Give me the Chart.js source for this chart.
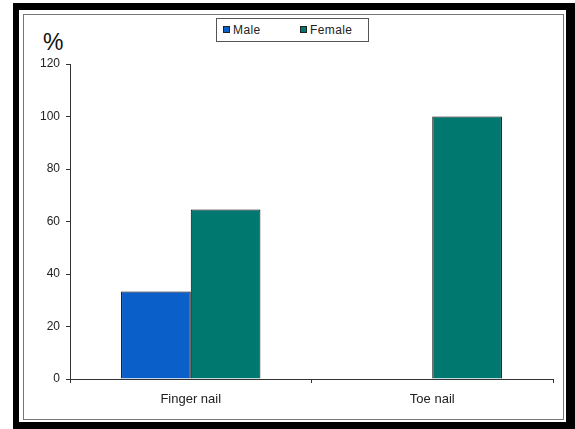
<!DOCTYPE html>
<html>
<head>
<meta charset="utf-8">
<script src="https://cdn.jsdelivr.net/npm/chart.js@4/dist/chart.umd.min.js"></script>
<style>
  html, body { margin: 0; padding: 0; background: #fff; }
  #wrap { position: relative; width: 575px; height: 429px; overflow: hidden; background: #fff; font-family: "Liberation Sans", Arial, sans-serif; }
  #frameBlack { position: absolute; left: 13px; top: 3px; width: 570px; height: 430px; background: #000; }
  #frameWhite { position: absolute; left: 19px; top: 10px; width: 547px; height: 412px; background: #fff; }
  #frameGray { position: absolute; left: 23px; top: 14px; width: 539px; height: 404px; border: 1px solid #777; background: #fff; }
  #c { position: absolute; left: 0; top: 0; }
  #pct { position: absolute; left: 43px; top: 29px; font-size: 23px; color: #111; }
  #legend { position: absolute; left: 216px; top: 18px; width: 153px; height: 24px; border: 1px solid #555; background: #fff; font-size: 12px; color: #222; box-sizing: border-box; letter-spacing: 0.4px; }
  .li { position: absolute; top: 4px; white-space: nowrap; }
  .sw { display: inline-block; width: 5px; height: 5px; border: 1px solid #222; margin-right: 3px; vertical-align: 1px; }
</style>
</head>
<body>
<div id="wrap">
  <div id="frameBlack"></div>
  <div id="frameWhite"></div>
  <div id="frameGray"></div>
  <div id="pct">%</div>
  <div id="legend"></div>
  <canvas id="c" width="575" height="429"></canvas>
</div>
<script>
const categories = ["Finger nail", "Toe nail"];
const seriesNames = ["Male", "Female"];
const maleValues = [33.3, 0];
const femaleValues = [64.6, 100];
const seriesColors = ["#0b5fc8", "#00786f"];
const yTicks = [0, 20, 40, 60, 80, 100, 120];

// HTML legend from series names/colors
const legend = document.getElementById('legend');
const legendX = [6, 83];
seriesNames.forEach((n, i) => {
  const d = document.createElement('div');
  d.className = 'li';
  d.style.left = legendX[i] + 'px';
  d.innerHTML = '<span class="sw" style="background:' + seriesColors[i] + '"></span>' + n;
  legend.appendChild(d);
});

const axisColor = '#333';
new Chart(document.getElementById('c'), {
  type: 'bar',
  data: {
    labels: categories,
    datasets: [
      { label: seriesNames[0], data: maleValues, backgroundColor: seriesColors[0], borderColor: '#000', borderWidth: 1 },
      { label: seriesNames[1], data: femaleValues, backgroundColor: seriesColors[1], borderColor: '#000', borderWidth: 1 }
    ]
  },
  options: {
    responsive: false,
    animation: false,
    layout: { padding: { left: 0, right: 22, top: 64, bottom: 0 } },
    datasets: { bar: { categoryPercentage: 0.577, barPercentage: 1.0 } },
    plugins: { legend: { display: false }, tooltip: { enabled: false } },
    scales: {
      x: {
        afterFit: s => { s.height = 50; },
        grid: { display: true, drawOnChartArea: false, tickLength: 4, color: axisColor, offset: true },
        border: { display: true, color: axisColor, width: 1 },
        ticks: { color: '#222', padding: 9, font: { family: 'Liberation Sans', size: 13 } }
      },
      y: {
        min: 0, max: 120,
        afterFit: s => { s.width = 70; },
        afterBuildTicks: s => { s.ticks = yTicks.map(v => ({ value: v })); },
        grid: { display: true, drawOnChartArea: false, tickLength: 4, color: axisColor },
        border: { display: true, color: axisColor, width: 1 },
        ticks: { color: '#222', padding: 6, font: { family: 'Liberation Sans', size: 12 } }
      }
    }
  }
});
</script>
</body>
</html>
